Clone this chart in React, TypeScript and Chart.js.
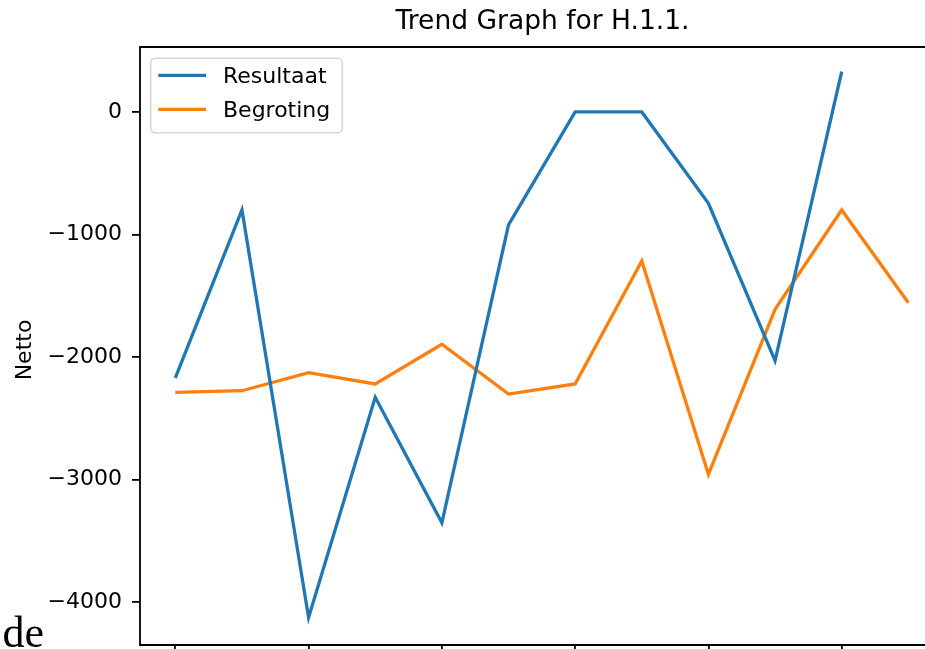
import React, { useEffect, useRef } from "react";
import { Chart, registerables } from "chart.js";

Chart.register(...registerables);

// ---- data ----
const periods = ["2012", "2013", "2014", "2015", "2016", "2017", "2018", "2019", "2020", "2021", "2022", "2023"];
const resultaat: (number | null)[] = [-2171, -800, -4125, -2329, -3353, -922, 0, 0, -745, -2030, 329, null];
const begroting: number[] = [-2288, -2275, -2128, -2220, -1896, -2302, -2220, -1216, -2958, -1611, -800, -1557];
const yTicks = [-4000, -3000, -2000, -1000, 0];
const xTickIndex = [0, 2, 4, 6, 8, 10];
const seriesNames = ["Resultaat", "Begroting"];
const seriesColors = ["#1f77b4", "#ff7f0e"];
const chartTitle = "Trend Graph for H.1.1.";
const yAxisLabel = "Netto";
const pageText = "de";

const FONT = "'DejaVu Sans', sans-serif";

const decorPlugin = {
  id: "mplDecor",
  afterDraw(chart: any) {
    const { ctx, chartArea: a } = chart;
    ctx.save();
    // spines (top, left, bottom; the right one lies beyond the visible window)
    ctx.strokeStyle = "#000";
    ctx.lineWidth = 1.8;
    ctx.beginPath();
    ctx.moveTo(a.right, a.top);
    ctx.lineTo(a.left, a.top);
    ctx.lineTo(a.left, a.bottom);
    ctx.lineTo(a.right, a.bottom);
    ctx.stroke();

    // title
    ctx.fillStyle = "#000";
    ctx.font = `26.5px ${FONT}`;
    ctx.textAlign = "center";
    ctx.textBaseline = "alphabetic";
    ctx.fillText(chartTitle, (a.left + a.right) / 2, a.top - 17.7);

    // y axis label
    ctx.save();
    ctx.font = `22px ${FONT}`;
    ctx.translate(25.5, (a.top + a.bottom) / 2 + 4);
    ctx.rotate(-Math.PI / 2);
    ctx.textAlign = "center";
    ctx.textBaseline = "middle";
    ctx.fillText(yAxisLabel, 0, 0);
    ctx.restore();

    // legend (upper left, inside axes)
    const bx = a.left + 10.7;
    const by = a.top + 11.3;
    const bw = 191.6;
    const bh = 74.4;
    ctx.beginPath();
    (ctx as any).roundRect(bx, by, bw, bh, 4.5);
    ctx.fillStyle = "rgba(255,255,255,0.8)";
    ctx.fill();
    ctx.strokeStyle = "rgba(204,204,204,0.8)";
    ctx.lineWidth = 1.6;
    ctx.stroke();

    ctx.font = `22px ${FONT}`;
    ctx.textAlign = "left";
    ctx.textBaseline = "alphabetic";
    chart.data.datasets.forEach((ds: any, i: number) => {
      const ly = a.top + 28.3 + i * 34;
      ctx.beginPath();
      ctx.moveTo(a.left + 18.3, ly);
      ctx.lineTo(a.left + 66, ly);
      ctx.strokeStyle = ds.borderColor;
      ctx.lineWidth = 3.3;
      ctx.stroke();
      ctx.fillStyle = "#000";
      ctx.fillText(ds.label, a.left + 83, ly + 7.7);
    });
    ctx.restore();
  },
};

const fmt = (v: number) => (v < 0 ? "\u2212" + Math.abs(v) : String(v));

export default function App() {
  const ref = useRef<HTMLCanvasElement | null>(null);

  useEffect(() => {
    if (!ref.current) return;
    const chart = new Chart(ref.current, {
      type: "line",
      data: {
        datasets: [
          {
            label: seriesNames[0],
            data: resultaat.map((y, i) => ({ x: i, y })) as any,
            borderColor: seriesColors[0],
            backgroundColor: seriesColors[0],
          },
          {
            label: seriesNames[1],
            data: begroting.map((y, i) => ({ x: i, y })) as any,
            borderColor: seriesColors[1],
            backgroundColor: seriesColors[1],
          },
        ],
      },
      options: {
        animation: false,
        responsive: false,
        maintainAspectRatio: false,
        devicePixelRatio: 1,
        layout: { padding: { left: 0, top: 47, right: 55, bottom: 0 } },
        elements: {
          point: { radius: 0, hoverRadius: 0 },
          line: { tension: 0, borderWidth: 3.3, borderCapStyle: "butt", borderJoinStyle: "miter" },
        },
        plugins: {
          legend: { display: false },
          title: { display: false },
          tooltip: { enabled: false },
        },
        scales: {
          x: {
            type: "linear",
            min: -0.53,
            max: 11.55,
            afterBuildTicks: (s: any) => {
              s.ticks = xTickIndex.map((v) => ({ value: v }));
            },
            afterFit: (s: any) => {
              s.height = 75;
            },
            grid: { drawOnChartArea: false, drawTicks: true, tickLength: 8, color: "#000", lineWidth: 1.8 },
            border: { display: false },
            ticks: {
              autoSkip: false,
              maxRotation: 0,
              padding: 8,
              color: "#000",
              font: { family: FONT, size: 22 },
              callback: (v: any) => periods[v as number] ?? "",
            },
          },
          y: {
            type: "linear",
            min: -4350,
            max: 530,
            afterBuildTicks: (s: any) => {
              s.ticks = yTicks.map((v) => ({ value: v }));
            },
            afterFit: (s: any) => {
              s.width = 140;
            },
            grid: { drawOnChartArea: false, drawTicks: true, tickLength: 8, color: "#000", lineWidth: 1.8 },
            border: { display: false },
            ticks: {
              padding: 10,
              color: "#000",
              font: { family: FONT, size: 22 },
              callback: (v: any) => fmt(v as number),
            },
          },
        },
      },
      plugins: [decorPlugin],
    });
    return () => chart.destroy();
  }, []);

  return (
    <div style={{ position: "fixed", left: 0, top: 0, width: 925, height: 649, overflow: "hidden", background: "#fff" }}>
      <canvas ref={ref} width={1000} height={720} style={{ position: "absolute", left: 0, top: 0, display: "block" }} />
      <div
        style={{
          position: "absolute",
          left: 2.5,
          top: 611,
          fontFamily: "'Liberation Serif', serif",
          fontSize: 44,
          lineHeight: "44px",
          color: "#000",
          whiteSpace: "nowrap",
        }}
      >
        {pageText}
      </div>
    </div>
  );
}
